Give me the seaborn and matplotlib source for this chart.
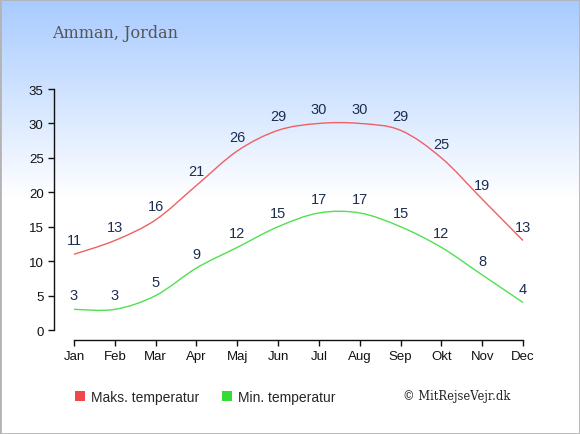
import numpy as np
import pandas as pd
import seaborn as sns
import matplotlib.pyplot as plt
from matplotlib.path import Path
from matplotlib.patches import PathPatch, Patch, Rectangle
from matplotlib.colors import LinearSegmentedColormap

months = ["Jan", "Feb", "Mar", "Apr", "Maj", "Jun", "Jul", "Aug", "Sep", "Okt", "Nov", "Dec"]
max_temp = [11, 13, 16, 21, 26, 29, 30, 30, 29, 25, 19, 13]
min_temp = [3, 3, 5, 9, 12, 15, 17, 17, 15, 12, 8, 4]

RED = "#f06060"
GREEN = "#50e050"
LABEL = "#1c2e50"


def smooth_path(x, y):
    # Catmull-Rom curve through the points, as cubic Bezier segments
    x = np.asarray(x, float)
    y = np.asarray(y, float)
    px = np.concatenate([[x[0]], x, [x[-1]]])
    py = np.concatenate([[y[0]], y, [y[-1]]])
    verts = [(x[0], y[0])]
    codes = [Path.MOVETO]
    for i in range(1, len(px) - 2):
        c1 = (px[i] + (px[i + 1] - px[i - 1]) / 6, py[i] + (py[i + 1] - py[i - 1]) / 6)
        c2 = (px[i + 1] - (px[i + 2] - px[i]) / 6, py[i + 1] - (py[i + 2] - py[i]) / 6)
        verts += [c1, c2, (px[i + 1], py[i + 1])]
        codes += [Path.CURVE4] * 3
    return Path(verts, codes)


df = pd.DataFrame({"month": months, "Maks. temperatur": max_temp, "Min. temperatur": min_temp})
df["pos"] = np.arange(len(df))

sns.set_theme(style="ticks")
plt.rcParams["font.family"] = ["Liberation Sans", "DejaVu Sans"]

fig = plt.figure(figsize=(5.8, 4.35), dpi=100)

# background gradient (light blue at top fading to white)
bg = fig.add_axes([0, 0, 1, 1], zorder=-10)
cmap = LinearSegmentedColormap.from_list("sky", ["#a8cbff", "#ffffff"])
grad = np.linspace(0, 1, 256).reshape(-1, 1)
grad = np.clip(grad / 0.46, 0, 1)
bg.imshow(grad, aspect="auto", cmap=cmap, extent=[0, 1, 0, 1])
bg.add_patch(Rectangle((0, 0), 1, 1, transform=bg.transAxes, fill=False,
                       edgecolor="#b4b4b4", linewidth=2))
bg.set_axis_off()

ax = fig.add_axes([54 / 580, 1 - 341 / 435, 489 / 580, 251 / 435])
ax.patch.set_alpha(0)

for col, color in [("Maks. temperatur", RED), ("Min. temperatur", GREEN)]:
    ax.add_patch(PathPatch(smooth_path(df["pos"], df[col]), fill=False,
                           edgecolor=color, linewidth=1.0))
    for xv, yv in zip(df["pos"], df[col]):
        ax.annotate(str(yv), (xv, yv), xytext=(0, 5), textcoords="offset points",
                    ha="center", va="bottom", fontsize=10.5, color=LABEL,
                    annotation_clip=False)

ax.set_xlim(-0.49, 11.49)
ax.set_ylim(-1.45, 35)
ax.set_xticks(df["pos"])
ax.set_xticklabels(months)
ax.set_yticks(range(0, 36, 5))
ax.tick_params(axis="both", labelsize=9.5, colors="#111111", length=4, width=1)
ax.spines["left"].set_bounds(0, 35)
ax.spines["bottom"].set_bounds(0, 11)
for s in ["left", "bottom"]:
    ax.spines[s].set_color("#111111")
    ax.spines[s].set_linewidth(1)
sns.despine(ax=ax)
ax.set_xlabel("")
ax.set_ylabel("")

fig.text(52 / 580, 1 - 33 / 435, "Amman, Jordan", family="DejaVu Serif",
         fontsize=11.5, color="#555555", va="center", ha="left")

handles = [Patch(facecolor="#ee4848", edgecolor="none"),
           Patch(facecolor="#33dd33", edgecolor="none")]
fig.legend(handles, ["Maks. temperatur", "Min. temperatur"], ncol=2,
           loc="center left", bbox_to_anchor=(62 / 580, 1 - 398 / 435),
           frameon=False, fontsize=10, handlelength=0.75, handleheight=0.75,
           handletextpad=0.45, columnspacing=1.6)

fig.text(510 / 580, 1 - 397 / 435, "© MitRejseVejr.dk", family="DejaVu Serif",
         fontsize=8.3, color="#222222", va="center", ha="right")

fig.savefig("out.png", dpi=100)
